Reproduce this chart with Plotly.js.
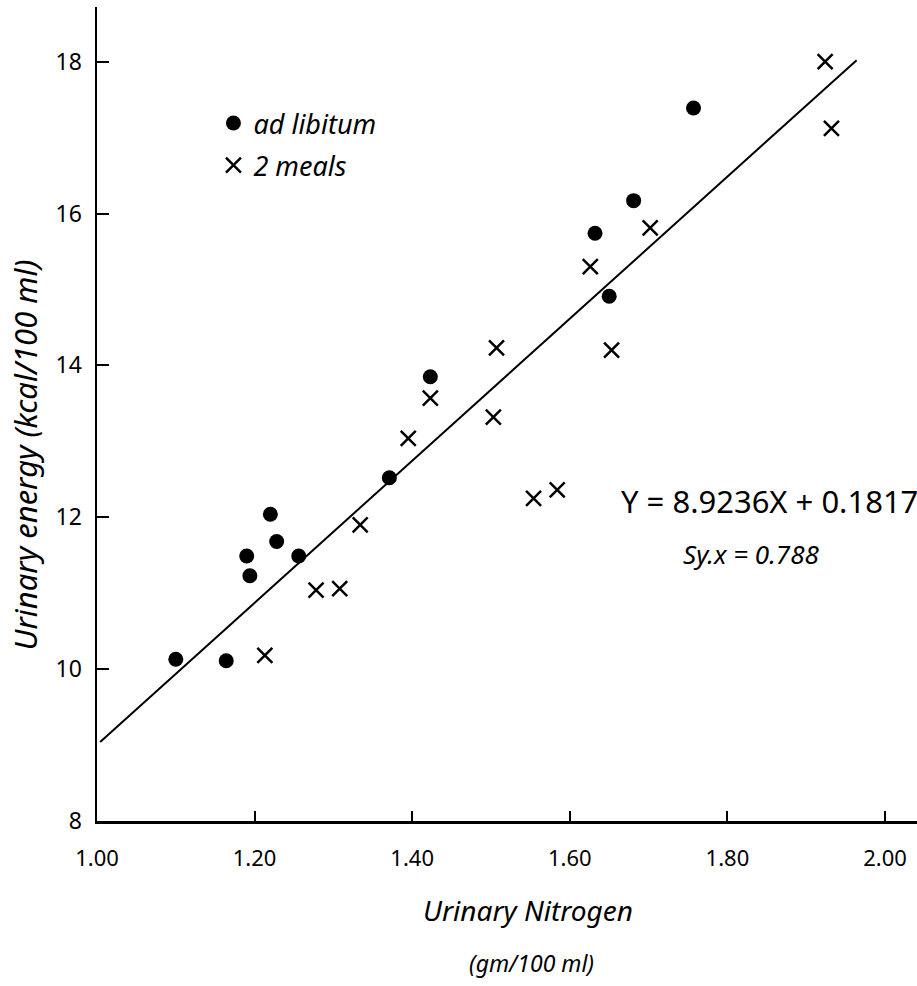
<!DOCTYPE html>
<html>
<head>
<meta charset="utf-8">
<script src="https://cdn.plot.ly/plotly-3.0.1.min.js"></script>
<style>html,body{margin:0;padding:0;background:#fff;}#chart{width:917px;height:986px;}</style>
</head>
<body>
<div id="chart"></div>
<script>
// Data
const adLibX = [1.100, 1.164, 1.190, 1.194, 1.220, 1.228, 1.256, 1.371, 1.423, 1.632, 1.650, 1.681, 1.757];
const adLibY = [10.13, 10.11, 11.49, 11.23, 12.04, 11.68, 11.49, 12.52, 13.85, 15.74, 14.91, 16.17, 17.39];
const mealsX = [0.989, 1.213, 1.278, 1.308, 1.334, 1.395, 1.423, 1.503, 1.507, 1.554, 1.584, 1.626, 1.653, 1.702, 1.924, 1.932];
const mealsY = [8.89, 10.18, 11.04, 11.06, 11.90, 13.04, 13.57, 13.32, 14.23, 12.25, 12.36, 15.30, 14.20, 15.81, 18.00, 17.12];
const fitX = [1.004, 1.964];
const fitY = [9.04, 18.02];
const xTicks = [1.00, 1.20, 1.40, 1.60, 1.80, 2.00];
const xTickText = ["1.00", "1.20", "1.40", "1.60", "1.80", "2.00"];
const yTicks = [8, 10, 12, 14, 16, 18];
const seriesNames = ["ad libitum", "2 meals"];
const equationText = "Y = 8.9236X + 0.1817";
const syxText = "Sy.x = 0.788";
const xTitleLines = ["Urinary Nitrogen", "(gm/100 ml)"];
const yTitleText = "Urinary energy (kcal/100 ml)";

const FONT = "Noto Sans, DejaVu Sans, sans-serif";

const traces = [
  {
    x: fitX, y: fitY, type: "scatter", mode: "lines",
    line: {color: "#000", width: 2}, showlegend: false, hoverinfo: "skip", cliponaxis: false
  },
  {
    x: adLibX, y: adLibY, type: "scatter", mode: "markers", name: seriesNames[0],
    legendgroup: "a",
    marker: {symbol: "circle", size: 15, color: "#000"}, cliponaxis: false
  },
  {
    x: mealsX, y: mealsY, type: "scatter", mode: "markers", name: seriesNames[1],
    legendgroup: "b",
    marker: {symbol: "x-thin-open", size: 15, color: "#000", line: {color: "#000", width: 2.5}}, cliponaxis: false
  }
];

const layout = {
  width: 917, height: 986,
  margin: {l: 97, r: 0, t: 7, b: 165},
  paper_bgcolor: "#fff", plot_bgcolor: "#fff",
  font: {family: FONT, color: "#000", size: 20},
  showlegend: true,
  legend: {
    x: 0.142, y: 0.887, xanchor: "left", yanchor: "top",
    font: {family: FONT, size: 27, style: "italic", color: "#000"},
    traceorder: "grouped", tracegroupgap: 4, bgcolor: "rgba(0,0,0,0)"
  },
  xaxis: {
    range: [1.0, 2.0406], showgrid: false, zeroline: false,
    showline: true, linecolor: "#000", linewidth: 2.5,
    ticks: "inside", ticklen: 10, tickwidth: 2, tickcolor: "#000",
    tickvals: xTicks, ticktext: xTickText, ticklabelstandoff: 16,
    tickfont: {family: FONT, size: 22, color: "#000"}
  },
  yaxis: {
    range: [8, 18.72], showgrid: false, zeroline: false,
    showline: true, linecolor: "#000", linewidth: 2.5,
    ticks: "inside", ticklen: 12, tickwidth: 2, tickcolor: "#000",
    tickvals: yTicks, ticklabelstandoff: 8,
    tickfont: {family: FONT, size: 23, color: "#000"}
  },
  annotations: [
    {xref: "x", yref: "y", x: 1.853, y: 12.22, yanchor: "middle", text: equationText, showarrow: false,
     font: {family: FONT, size: 31, color: "#000"}},
    {xref: "x", yref: "y", x: 1.830, y: 11.52, yanchor: "middle", text: syxText, showarrow: false,
     font: {family: FONT, size: 26, style: "italic", color: "#000"}},
    {xref: "paper", yref: "paper", x: 0.526, y: -0.109, yanchor: "middle", text: xTitleLines[0], showarrow: false,
     font: {family: FONT, size: 28, style: "italic", color: "#000"}},
    {xref: "paper", yref: "paper", x: 0.53, y: -0.175, yanchor: "middle", text: xTitleLines[1], showarrow: false,
     font: {family: FONT, size: 23, style: "italic", color: "#000"}},
    {xref: "paper", yref: "paper", x: -0.088, y: 0.45, xanchor: "center", yanchor: "middle", text: yTitleText, showarrow: false, textangle: -90,
     font: {family: FONT, size: 31, style: "italic", color: "#000"}}
  ]
};

Plotly.newPlot("chart", traces, layout, {displayModeBar: false, staticPlot: true});
</script>
</body>
</html>
